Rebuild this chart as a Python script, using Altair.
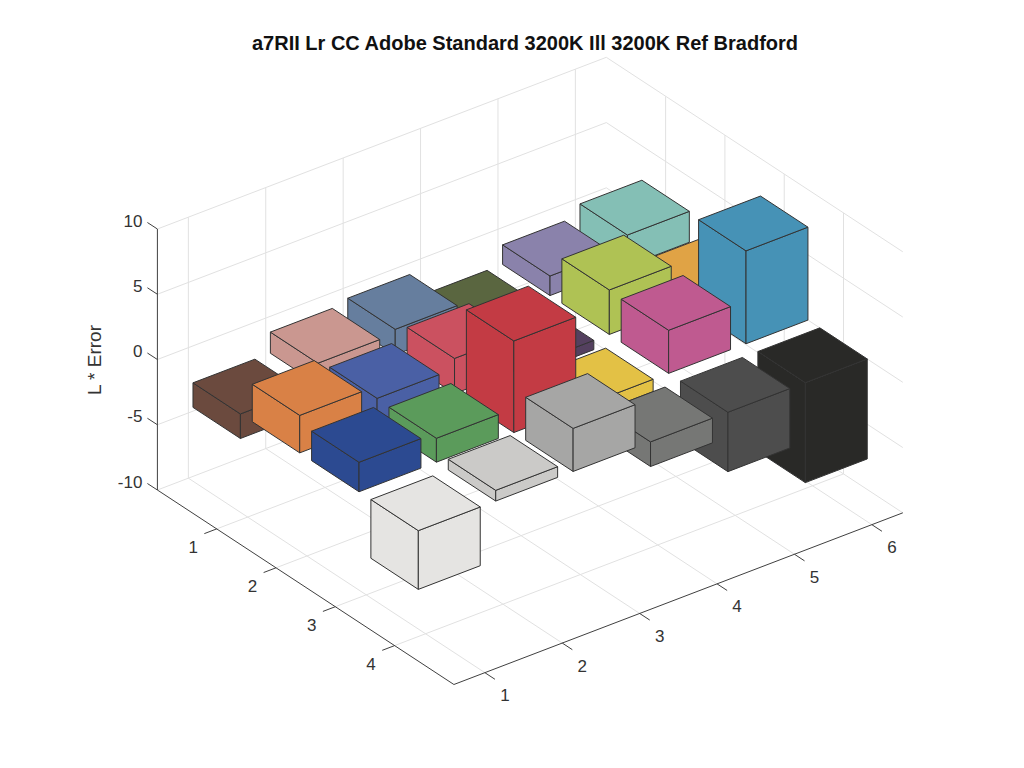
import altair as alt
import pandas as pd

# ---- chart values (L* error per ColorChecker patch, row = y, column = x)
row1 = [-1.88, 1.62, 1.95, -1.0, 1.5, 2.37]
row2 = [2.87, 1.91, 2.7, -0.71, 3.41, 0.89]
row3 = [2.26, 1.83, 7.02, -0.95, 3.3, 7.12]
row4 = [-4.5, 0.82, 3.3, -1.89, -4.55, -7.66]

colors1 = ["#6b4a3e", "#ca9790", "#667e9e", "#5a6640", "#8a82ab", "#84bfb5"]
colors2 = ["#d98146", "#4a60a5", "#cb5160", "#54405f", "#afc254", "#e0a345"]
colors3 = ["#2c4a91", "#5b9b5b", "#c33b44", "#e3c145", "#bf5a90", "#4692b6"]
colors4 = ["#e5e4e2", "#cbcac8", "#a6a6a5", "#767775", "#4d4d4d", "#292927"]

x_ticks = [1, 2, 3, 4, 5, 6]
y_ticks = [1, 2, 3, 4]
z_ticks = [-10, -5, 0, 5, 10]

title_text = "a7RII Lr CC Adobe Standard 3200K Ill 3200K Ref Bradford"
z_label = "L * Error"

rows = [row1, row2, row3, row4]
colors = [colors1, colors2, colors3, colors4]

XMIN, XMAX, YMIN, YMAX, ZMIN, ZMAX = 0.6, 6.4, 0.0, 5.0, -10.0, 10.0
HALF = 0.4
GRID = "#e1e1e1"
INK = "#404040"
EDGE = "#333333"
TEXT = "#333333"
FONT = "Liberation Sans"


def proj(x, y, z):
    """Orthographic view of the 3-D axes, in page pixels."""
    return (
        157.4 + 77.4 * (x - XMIN) + 59.3 * (y - YMIN),
        490.0 - 29.6 * (x - XMIN) + 38.9 * (y - YMIN) - 13.05 * (z - ZMIN),
    )


def path_rows(gid, pts, **extra):
    out = []
    for i, p in enumerate(pts):
        sx, sy = proj(*p)
        out.append({"gid": gid, "ord": i, "sx": sx, "sy": sy, **extra})
    return out


# grid
grid = []
for x in x_ticks:
    grid += path_rows(f"fx{x}", [(x, YMAX, ZMIN), (x, YMIN, ZMIN), (x, YMIN, ZMAX)])
for y in y_ticks:
    grid += path_rows(f"fy{y}", [(XMIN, y, ZMIN), (XMAX, y, ZMIN), (XMAX, y, ZMAX)])
for z in z_ticks:
    grid += path_rows(f"z{z}", [(XMIN, YMIN, z), (XMAX, YMIN, z), (XMAX, YMAX, z)])

# axes and ticks
axes = []
axes += path_rows("axz", [(XMIN, YMIN, ZMIN), (XMIN, YMIN, ZMAX)])
axes += path_rows("axf", [(XMIN, YMIN, ZMIN), (XMIN, YMAX, ZMIN), (XMAX, YMAX, ZMIN)])
for x in x_ticks:
    axes += path_rows(f"tx{x}", [(x, YMAX, ZMIN), (x, YMAX + 0.17, ZMIN + 0.0)])
for y in y_ticks:
    axes += path_rows(f"ty{y}", [(XMIN, y, ZMIN), (XMIN - 0.16, y, ZMIN)])
for z in z_ticks:
    sx, sy = proj(XMIN, YMIN, z)
    axes += [
        {"gid": f"tz{z}", "ord": 0, "sx": sx, "sy": sy},
        {"gid": f"tz{z}", "ord": 1, "sx": sx - 10, "sy": sy - 6.5},
    ]

# bars, painted back to front
faces = []
for j, (vals, cols) in enumerate(zip(rows, colors)):
    y = j + 1
    for i in range(len(vals) - 1, -1, -1):
        x = i + 1
        v = vals[i]
        c = cols[i]
        x0, x1 = x - HALF, x + HALF
        y0, y1 = y - HALF, y + HALF
        top, bot = max(v, 0.0), min(v, 0.0)
        quads = {
            "left": [(x0, y0, bot), (x0, y1, bot), (x0, y1, top), (x0, y0, top)],
            "right": [(x0, y1, bot), (x1, y1, bot), (x1, y1, top), (x0, y1, top)],
            "top": [(x0, y0, top), (x1, y0, top), (x1, y1, top), (x0, y1, top)],
        }
        for name, q in quads.items():
            faces += path_rows(f"{j}-{i}-{name}", q + [q[0]], color=c)

# tick labels
labels = []
for x in x_ticks:
    sx, sy = proj(x, YMAX, ZMIN)
    labels.append({"sx": sx + 20, "sy": sy + 23.5, "t": str(x)})
for y in y_ticks:
    sx, sy = proj(XMIN, y, ZMIN)
    labels.append({"sx": sx - 23.5, "sy": sy + 19.5, "t": str(y)})
zlabels = []
for z in z_ticks:
    sx, sy = proj(XMIN, YMIN, z)
    zlabels.append({"sx": sx - 15, "sy": sy - 7.5, "t": str(z)})

W, H = 1008, 752
xs = alt.X("sx:Q", scale=alt.Scale(domain=[8, 8 + W], nice=False, zero=False), axis=None)
ys = alt.Y("sy:Q", scale=alt.Scale(domain=[8 + H, 8], nice=False, zero=False), axis=None)


def lines(data, color, width):
    return (
        alt.Chart(pd.DataFrame(data))
        .mark_line(color=color, strokeWidth=width, clip=False)
        .encode(x=xs, y=ys, detail="gid:N", order="ord:Q")
    )


bars = (
    alt.Chart(pd.DataFrame(faces))
    .mark_line(stroke=EDGE, strokeWidth=1, strokeJoin="round")
    .encode(
        x=xs,
        y=ys,
        detail="gid:N",
        order="ord:Q",
        fill=alt.Fill("color:N", scale=None, legend=None),
    )
)

tick_text = (
    alt.Chart(pd.DataFrame(labels))
    .mark_text(font=FONT, fontSize=17, color=TEXT, align="center", baseline="middle")
    .encode(x=xs, y=ys, text="t:N")
)
z_text = (
    alt.Chart(pd.DataFrame(zlabels))
    .mark_text(font=FONT, fontSize=17, color=TEXT, align="right", baseline="middle")
    .encode(x=xs, y=ys, text="t:N")
)
z_title = (
    alt.Chart(pd.DataFrame([{"sx": 95, "sy": 360, "t": z_label}]))
    .mark_text(font=FONT, fontSize=19, color=TEXT, align="center", baseline="middle", angle=270)
    .encode(x=xs, y=ys, text="t:N")
)

chart = (
    alt.layer(lines(grid, GRID, 1), lines(axes, INK, 1), bars, tick_text, z_text, z_title)
    .properties(
        width=W,
        height=H,
        padding=0,
        autosize=alt.AutoSizeParams(type="none"),
        title=alt.TitleParams(
            title_text,
            font=FONT,
            fontSize=20,
            fontWeight="bold",
            color="#111111",
            anchor="middle",
            dx=13,
            dy=50,
        ),
    )
    .configure_view(stroke=None)
)

chart.save("out.html", embed_options={"renderer": "svg", "actions": False})
